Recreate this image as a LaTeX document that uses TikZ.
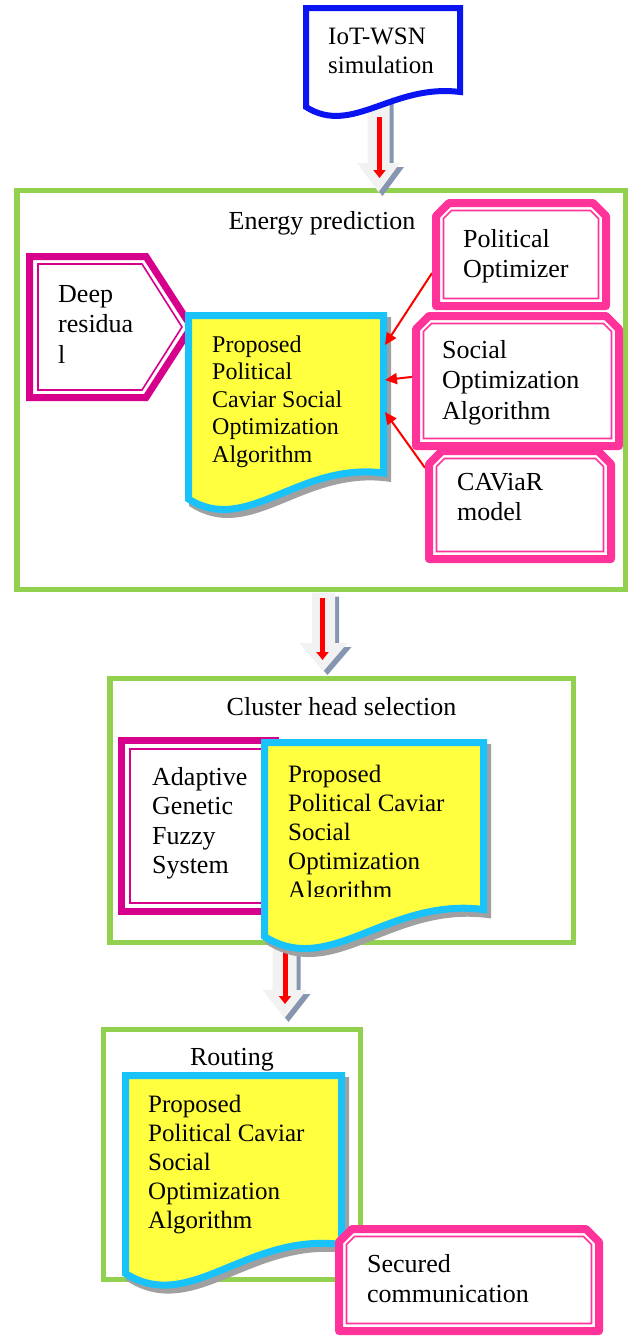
\documentclass[tikz,border=0pt]{standalone}
\usepackage{fontspec}
\setmainfont{Liberation Serif}
\usetikzlibrary{arrows.meta,calc}
\definecolor{grn}{RGB}{146,208,80}
\definecolor{cyn}{RGB}{25,195,250}
\definecolor{ylw}{RGB}{255,255,64}
\definecolor{pnk}{RGB}{255,51,153}
\definecolor{mag}{RGB}{214,0,140}
\definecolor{blu}{RGB}{10,20,240}
\definecolor{arrfill}{RGB}{242,242,242}
\definecolor{arrshd}{RGB}{135,150,176}
\definecolor{docshd}{RGB}{160,160,160}
\definecolor{redc}{RGB}{255,0,0}
\newcommand\fsA{\fontsize{24}{27.5}\selectfont}
\newcommand\fsB{\fontsize{25}{29}\selectfont}
\newcommand\fsC{\fontsize{26}{30.5}\selectfont}
\newcommand\fsD{\fontsize{26}{29.5}\selectfont}
% document shape: L, T, yl, R, yr
\newcommand\docpath[5]{({#1},{#2}) -- ({#4},{#2}) -- ({#4},{#5}) .. controls ({#1+0.56*(#4-#1)},{#5-0.056*(#4-#1)}) and ({#1+0.3*(#4-#1)},{#3+0.19*(#4-#1)}) .. ({#1},{#3}) -- cycle}
% chamfered box: L, T, R, B, c
\newcommand\champath[5]{({#1},{#4}) -- ({#1},{#2+#5}) -- ({#1+#5},{#2}) -- ({#3-#5},{#2}) -- ({#3},{#2+#5}) -- ({#3},{#4}) -- cycle}
\newcommand\pinkbox[4]{%
  \draw[pnk, line width=8pt, line join=round, fill=white] \champath{#1+4}{#2+4}{#3-4}{#4-4}{13};
  \draw[pnk, line width=1.6pt] \champath{#1+11.5}{#2+11.5}{#3-11.5}{#4-11.5}{8};}
% block arrow: cx, top, headtop, tip, shaft half, head half
\newcommand\arrpoly[6]{({#1-#5},{#2}) -- ({#1+#5},{#2}) -- ({#1+#5},{#3}) -- ({#1+#6},{#3}) -- ({#1},{#4}) -- ({#1-#6},{#3}) -- ({#1-#5},{#3}) -- cycle}
\newcommand\blockarr[6]{%
  \fill[arrshd, shift={(4,4)}] \arrpoly{#1}{#2}{#3}{#4}{#5}{#6};
  \fill[arrfill] \arrpoly{#1}{#2}{#3}{#4}{#5}{#6};}
\tikzset{
  greenbox/.style={draw=grn, line width=5.5pt, fill=white, inner sep=0pt, outer sep=0pt},
  area/.style={inner sep=0pt, outer sep=0pt, draw=none},
  txt/.style={anchor=base west, align=left, inner sep=0pt},
  ttl/.style={anchor=base, inner sep=0pt, font=\fsC},
  cyanline/.style={draw=cyn, line width=7pt, fill=ylw, line join=miter},
  docshadow/.style={draw=docshd, fill=docshd, line width=7pt, shift={(4,5)}},
  redblock/.style={draw=redc, line width=5pt, -{Triangle[length=8pt,width=12pt]}},
  redcon/.style={draw=redc, line width=2pt, -{Triangle[length=12pt,width=11pt]}},
}
\begin{document}
\begin{tikzpicture}[x=1pt,y=-1pt]
\useasboundingbox (0,0) rectangle (629,1336);
% green frames
\node[greenbox, minimum width=608.5pt, minimum height=399pt] (energy) at (321.25,390) {};
\node[greenbox, minimum width=463.5pt, minimum height=264pt] (cluster) at (341.75,810.5) {};
\node[greenbox, minimum width=257pt, minimum height=250pt] (routing) at (232,1154.5) {};
% block arrows with red arrows
\blockarr{378.5}{100}{163}{192}{11}{21.5}
\coordinate (r1a) at (379.5,117);
\coordinate (r1b) at (379.5,178);
\draw[redblock] (r1a) -- (r1b);
\blockarr{323.5}{592.5}{643}{671}{11.5}{24}
\coordinate (r2a) at (322.5,598);
\coordinate (r2b) at (322.5,660);
\draw[redblock] (r2a) -- (r2b);
\blockarr{284.5}{944}{990}{1018}{12}{22}
\coordinate (r3a) at (285,945);
\coordinate (r3b) at (285,1004);
\draw[redblock] (r3a) -- (r3b);
% IoT-WSN simulation
\draw[blu, line width=6pt, fill=white, line join=miter] \docpath{306}{8}{107}{460}{92};
\node[txt, font=\fsB] (iot) at (328,73.5) {IoT-WSN\\simulation};
% Energy prediction
\node[ttl] (energyt) at (322,229) {Energy prediction};
\draw[mag, line width=7pt, fill=white, line join=miter] (29.5,256.5) -- (146,256.5) -- (191.5,327) -- (146,397.5) -- (29.5,397.5) -- cycle;
\draw[mag, line width=1.6pt] (38,264) -- (142,264) -- (182,327) -- (142,390) -- (38,390) -- cycle;
\node[txt, font=\fsC] (deep) at (58,363) {Deep\\residua\\l};
\draw[docshadow] \docpath{188.5}{315.5}{499}{383.5}{473};
\draw[cyanline] \docpath{188.5}{315.5}{499}{383.5}{473};
\node[area, minimum width=202pt, minimum height=191pt] (d1) at (286,407.5) {};
\node[txt, font=\fsA] (d1t) at (212,462) {Proposed\\Political\\Caviar Social\\Optimization\\Algorithm};
\node[area, minimum width=178pt, minimum height=111pt] (po) at (521,254.5) {};
\node[area, minimum width=211pt, minimum height=138pt] (so) at (517.5,381) {};
\node[area, minimum width=190pt, minimum height=116pt] (cv) at (520,505) {};
\draw[redcon] ($(po.north west)!0.667!(po.south west)$) -- ($(d1.north east)+(-2,33)$);
\draw[redcon] ($(so.north west)!0.47!(so.south west)$) -- ($(d1.north east)+(-2,68)$);
\draw[redcon] ($(cv.north west)!0.18!(cv.south west)$) -- ($(d1.north east)+(-2,100)$);
\pinkbox{432}{199}{610}{310}
\node[txt, font=\fsC] (pot) at (463,277.5) {Political\\Optimizer};
\pinkbox{412}{312}{623}{450}
\node[txt, font=\fsC] (sot) at (442,419) {Social\\Optimization\\Algorithm};
\pinkbox{425}{447}{615}{563}
\node[txt, font=\fsC] (cvt) at (457,520.5) {CAViaR\\model};
% Cluster head selection
\node[ttl] (clustert) at (341.5,715) {Cluster head selection};
\draw[mag, line width=7pt, fill=white] (121.5,740.5) rectangle (275,911.5);
\draw[mag, line width=1.6pt] (130,749) rectangle (268,903);
\node[txt, font=\fsD] (agfs) at (152,873.5) {Adaptive\\Genetic\\Fuzzy\\System};
\draw[docshadow] \docpath{264.5}{742.5}{936.5}{483.5}{909.5};
\draw[cyanline] \docpath{264.5}{742.5}{936.5}{483.5}{909.5};
\begin{scope}
\clip (262,745) rectangle (482,896);
\node[txt, font=\fsB] (d2t) at (288,898) {Proposed\\Political Caviar\\Social\\Optimization\\Algorithm};
\end{scope}
% Routing
\node[ttl] (routingt) at (232,1065) {Routing};
\draw[docshadow] \docpath{125.5}{1075.5}{1273.5}{341.5}{1244.5};
\draw[cyanline] \docpath{125.5}{1075.5}{1273.5}{341.5}{1244.5};
\node[txt, font=\fsB] (d3t) at (148,1228) {Proposed\\Political Caviar\\Social\\Optimization\\Algorithm};
\pinkbox{335}{1225}{603}{1335}
\node[txt, font=\fsC] (sec) at (367,1302.5) {Secured\\communication};
\end{tikzpicture}
\end{document}
